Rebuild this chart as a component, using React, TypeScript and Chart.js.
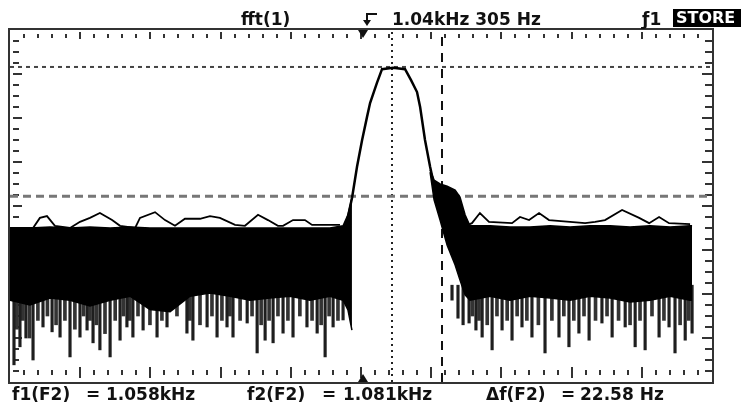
import React, { useEffect, useRef } from "react";
import { Chart, registerables } from "chart.js";

Chart.register(...registerables);

// ---- axis ranges ----
const freqMin = 885.5; // Hz at left edge of screen
const freqMax = 1202.5; // Hz at right edge of screen
const dbMin = -80;
const dbMax = 0;

// ---- cursors ----
const cursorF1 = 1058.0;
const cursorF2 = 1080.58;
const levelHigh = -8.4;
const levelLow = -37.8;

// ---- main filter peak trace ----
const peakHz = [1037.7, 1038.1, 1040.0, 1042.2, 1044.5, 1046.7, 1048.1, 1051.2, 1053.5, 1058.5, 1063.9, 1066.6, 1069.3, 1070.7, 1072.9, 1075.2, 1076.5];
const peakDb = [-45.9, -42.5, -38.0, -31.1, -25.0, -19.8, -16.6, -12.0, -8.9, -8.6, -8.9, -11.4, -14.1, -17.5, -25.0, -31.1, -34.1];

// ---- persistence noise band, left of peak ----
const leftBandHz = [885.5, 894.5, 903.6, 912.6, 921.6, 930.7, 939.7, 948.7, 957.8, 966.8, 975.8, 984.9, 993.9, 1002.9, 1012.0, 1021.0, 1030.0, 1035.9, 1038.1, 1039.9];
const leftBandTopDb = [-45.2, -45.0, -44.8, -45.0, -44.8, -45.0, -44.8, -45.0, -45.0, -45.0, -45.0, -45.0, -45.0, -45.0, -45.0, -45.0, -45.0, -44.5, -42.0, -38.2];
const leftBandBottomDb = [-61.4, -62.5, -60.9, -61.4, -62.7, -61.4, -60.5, -63.5, -64.0, -60.5, -59.8, -60.5, -61.4, -60.9, -60.5, -61.4, -60.5, -61.4, -63.6, -68.2];

// ---- persistence noise band, right of peak ----
const rightBandHz = [1075.2, 1077.0, 1079.7, 1082.9, 1086.5, 1088.7, 1091.0, 1093.2, 1102.3, 1111.3, 1120.3, 1129.4, 1138.4, 1147.4, 1156.5, 1165.5, 1174.5, 1183.6, 1192.6, 1193.5];
const rightBandTopDb = [-31.8, -34.1, -35.0, -35.5, -36.4, -38.0, -42.0, -44.5, -44.5, -44.8, -44.8, -44.5, -44.8, -44.5, -44.5, -44.8, -44.5, -44.8, -44.5, -44.5];
const rightBandBottomDb = [-32.3, -38.6, -43.2, -48.9, -53.4, -56.8, -60.2, -61.4, -60.5, -61.4, -60.5, -60.9, -61.4, -60.5, -60.9, -61.8, -61.4, -60.5, -61.4, -61.4];

// ---- downward noise spikes (deep tips) ----
const spikeBaseDb = -58;
const leftSpikeHz = [887.3, 890.0, 892.7, 895.9, 900.4, 904.5, 908.1, 912.6, 917.1, 920.3, 923.0, 926.1, 930.7, 935.2, 938.3, 941.0, 945.6, 951.9, 956.4, 965.4, 968.1, 974.5, 979.0, 983.5, 986.2, 992.6, 997.1, 1000.7, 1004.3, 1008.8, 1013.3, 1019.6, 1024.2, 1027.8, 1031.4, 1035.9];
const leftSpikeTipDb = [-76.1, -72.0, -70.0, -75.0, -67.5, -68.6, -69.8, -74.3, -69.8, -68.2, -71.1, -72.7, -74.3, -70.5, -67.5, -69.8, -68.2, -69.8, -67.5, -68.9, -70.5, -67.5, -69.8, -67.5, -69.8, -66.6, -73.4, -70.5, -71.1, -68.9, -69.8, -67.5, -68.9, -74.3, -67.5, -65.9];
const rightSpikeHz = [1085.1, 1087.8, 1090.1, 1092.8, 1095.9, 1098.7, 1103.2, 1107.7, 1112.2, 1116.7, 1121.2, 1127.1, 1133.4, 1137.9, 1142.4, 1147.0, 1152.8, 1157.4, 1163.3, 1167.8, 1172.3, 1178.6, 1183.1, 1185.8, 1190.4, 1193.5];
const rightSpikeTipDb = [-61.4, -65.5, -67.0, -66.6, -68.2, -69.8, -72.7, -68.2, -70.5, -67.5, -69.8, -73.4, -69.8, -72.0, -68.9, -70.5, -66.6, -69.8, -67.5, -72.0, -72.7, -69.8, -67.5, -73.4, -70.5, -68.9];

// ---- downward noise spikes (shallower, in between) ----
const leftMidSpikeHz = [888.6, 891.3, 894.3, 898.1, 902.4, 906.3, 910.3, 914.8, 918.7, 921.6, 924.5, 928.4, 933.0, 936.7, 939.6, 943.3, 948.7, 954.1, 960.9, 966.7, 971.3, 976.7, 981.2, 984.8, 989.4, 994.8, 998.9, 1002.5, 1006.5, 1011.0, 1016.4, 1021.9, 1026.0, 1029.6, 1033.6];
const leftMidSpikeTipDb = [-68, -66, -70, -66, -65, -67, -66, -68, -65, -66, -67, -69, -66, -65, -66, -65, -67, -66, -65, -66, -67, -65, -66, -65, -66, -65, -67, -66, -65, -66, -65, -66, -67, -65, -66];
const rightMidSpikeHz = [1094.3, 1097.3, 1101.0, 1105.4, 1110.0, 1114.5, 1118.9, 1124.1, 1130.2, 1135.6, 1140.1, 1144.7, 1149.9, 1155.1, 1160.3, 1165.5, 1170.0, 1175.4, 1180.8, 1188.1, 1192.0];
const rightMidSpikeTipDb = [-65, -66, -67, -65, -66, -65, -66, -67, -66, -65, -66, -65, -66, -65, -66, -67, -66, -65, -66, -67, -66];

// ---- upward excursions outlined above the band ----
const bumpLeftHz = [885.5, 895.9, 899.0, 902.2, 905.8, 912.6, 917.1, 921.6, 926.1, 931.6, 935.2, 942.0, 944.2, 951.0, 955.5, 960.0, 964.5, 971.3, 975.8, 980.3, 987.1, 991.6, 997.5, 1002.0, 1006.5, 1008.8, 1013.3, 1018.7, 1021.9, 1034.5];
const bumpLeftDb = [-45.0, -45.0, -42.7, -42.3, -44.5, -45.0, -43.6, -42.7, -41.6, -43.2, -44.5, -45.0, -42.7, -41.4, -43.2, -44.5, -42.9, -42.9, -42.3, -42.7, -44.3, -44.5, -42.0, -43.2, -44.5, -44.5, -43.2, -43.2, -44.3, -44.3];
const bumpRightHz = [1091.4, 1094.1, 1097.7, 1101.8, 1112.2, 1115.8, 1119.9, 1124.4, 1128.9, 1145.2, 1149.7, 1154.2, 1161.9, 1169.6, 1174.1, 1178.6, 1183.1, 1192.6];
const bumpRightDb = [-44.5, -43.9, -41.6, -43.6, -43.9, -42.5, -43.2, -41.6, -43.2, -43.9, -43.6, -43.2, -40.9, -42.7, -43.9, -42.5, -43.9, -44.1];

const pts = (xs: number[], ys: number[]) => xs.map((x, i) => ({ x, y: ys[i] }));
const bars = (xs: number[], ys: number[]) => xs.map((x, i) => ({ x, y: [ys[i], spikeBaseDb] }));

const graticule = {
  id: "graticule",
  beforeDatasetsDraw(chart: any) {
    const { ctx, chartArea: a } = chart;
    const L = a.left, R = a.right, T = a.top, B = a.bottom;
    const w = R - L, h = B - T;
    ctx.save();
    ctx.strokeStyle = "#333";
    ctx.lineWidth = 2;
    ctx.beginPath();
    for (let i = 1; i < 50; i++) {
      const x = Math.round(L + (w * i) / 50);
      const major = i % 5 === 0;
      ctx.moveTo(x, T + (major ? 2 : 4));
      ctx.lineTo(x, T + (major ? 9 : 8));
      ctx.moveTo(x, B - (major ? 15 : 12));
      ctx.lineTo(x, B - (major ? 4 : 7));
    }
    for (let j = 1; j < 32; j++) {
      const y = Math.round(T + (h * j) / 32);
      const major = j % 4 === 0;
      ctx.moveTo(L + 3, y);
      ctx.lineTo(L + (major ? 12 : 9), y);
      ctx.moveTo(R - (major ? 10 : 7), y);
      ctx.lineTo(R, y);
    }
    ctx.stroke();
    ctx.restore();
  },
  afterDatasetsDraw(chart: any) {
    const { ctx, chartArea: a } = chart;
    const L = a.left, R = a.right, T = a.top, B = a.bottom;
    ctx.save();
    ctx.strokeStyle = "#333";
    ctx.lineWidth = 2;
    ctx.strokeRect(L - 1, T - 1, R - L + 2, B - T + 2);
    const cx = Math.round(L + (R - L) / 2) + 2;
    ctx.fillStyle = "#111";
    ctx.beginPath();
    ctx.moveTo(cx - 5, T);
    ctx.lineTo(cx + 5, T);
    ctx.lineTo(cx, T + 8);
    ctx.closePath();
    ctx.fill();
    ctx.beginPath();
    ctx.moveTo(cx - 5, B);
    ctx.lineTo(cx + 5, B);
    ctx.lineTo(cx, B - 8);
    ctx.closePath();
    ctx.fill();
    // reference arrow glyph above the top marker
    ctx.strokeStyle = "#111";
    ctx.beginPath();
    ctx.moveTo(cx + 14, 14);
    ctx.lineTo(cx + 4, 14);
    ctx.lineTo(cx + 4, 21);
    ctx.stroke();
    ctx.beginPath();
    ctx.moveTo(cx, 20);
    ctx.lineTo(cx + 8, 20);
    ctx.lineTo(cx + 4, 26);
    ctx.closePath();
    ctx.fill();
    ctx.restore();
  },
};

const Label = ({ left, top, text, size = 17, color = "#111" }: any) => (
  <div
    style={{
      position: "absolute",
      left,
      top,
      font: `bold ${size}px "DejaVu Sans"`,
      lineHeight: `${size}px`,
      whiteSpace: "pre",
      color,
    }}
  >
    {text}
  </div>
);

export default function App() {
  const ref = useRef<HTMLCanvasElement>(null);
  useEffect(() => {
    const lineBase = { pointRadius: 0, tension: 0, fill: false };
    const spike = (data: any, color: string, thickness: number) =>
      ({ type: "bar", order: 3, data, backgroundColor: color, barThickness: thickness, grouped: false } as any);
    const chart = new Chart(ref.current!, {
      type: "line",
      data: {
        datasets: [
          { ...lineBase, order: 0, data: pts(peakHz, peakDb), borderColor: "#000", borderWidth: 2.5 },
          { ...lineBase, order: 1, data: pts(bumpLeftHz, bumpLeftDb), borderColor: "#000", borderWidth: 1.8 },
          { ...lineBase, order: 1, data: pts(bumpRightHz, bumpRightDb), borderColor: "#000", borderWidth: 1.8 },
          { ...lineBase, order: 2, data: pts(leftBandHz, leftBandTopDb), borderColor: "#000", borderWidth: 1.5 },
          { ...lineBase, order: 2, data: pts(leftBandHz, leftBandBottomDb), borderColor: "#000", borderWidth: 1.5, fill: "-1", backgroundColor: "#000" },
          { ...lineBase, order: 2, data: pts(rightBandHz, rightBandTopDb), borderColor: "#000", borderWidth: 1.5 },
          { ...lineBase, order: 2, data: pts(rightBandHz, rightBandBottomDb), borderColor: "#000", borderWidth: 1.5, fill: "-1", backgroundColor: "#000" },
          spike(bars(leftSpikeHz, leftSpikeTipDb), "#1e1e1e", 2.5),
          spike(bars(rightSpikeHz, rightSpikeTipDb), "#1e1e1e", 2.5),
          spike(bars(leftMidSpikeHz, leftMidSpikeTipDb), "#333", 3),
          spike(bars(rightMidSpikeHz, rightMidSpikeTipDb), "#333", 3),
          { ...lineBase, order: 4, data: [{ x: freqMin, y: levelHigh }, { x: freqMax, y: levelHigh }], borderColor: "#444", borderWidth: 2, borderDash: [4, 4] },
          { ...lineBase, order: 4, data: [{ x: freqMin, y: levelLow }, { x: freqMax, y: levelLow }], borderColor: "#777", borderWidth: 3, borderDash: [8, 5] },
          { ...lineBase, order: 4, data: [{ x: cursorF1, y: dbMin }, { x: cursorF1, y: dbMax }], borderColor: "#222", borderWidth: 2, borderDash: [2, 4] },
          { ...lineBase, order: 4, data: [{ x: cursorF2, y: dbMin }, { x: cursorF2, y: dbMax }], borderColor: "#111", borderWidth: 2, borderDash: [9, 7] },
        ],
      },
      options: {
        animation: false,
        responsive: false,
        devicePixelRatio: 1,
        events: [],
        layout: { padding: { left: 10, right: 32, top: 30, bottom: 26 } },
        scales: {
          x: { type: "linear", min: freqMin, max: freqMax, display: false, offset: false },
          y: { type: "linear", min: dbMin, max: dbMax, display: false },
        },
        plugins: { legend: { display: false }, tooltip: { enabled: false } },
      },
      plugins: [graticule],
    } as any);
    return () => chart.destroy();
  }, []);

  return (
    <div style={{ position: "absolute", left: 0, top: 0, width: 744, height: 408, background: "#fff", overflow: "hidden" }}>
      <canvas ref={ref} width={744} height={408} style={{ position: "absolute", left: 0, top: 0 }} />
      <Label left={241} top={11} text="fft(1)" />
      <Label left={392} top={11} text="1.04kHz 305 Hz" />
      <Label left={642} top={11} text="ƒ1" />
      <div style={{ position: "absolute", left: 673, top: 9, width: 68, height: 18, background: "#000" }} />
      <Label left={676} top={10} text="STORE" size={16} color="#fff" />
      <Label left={12} top={386} text="f1(F2)" />
      <Label left={86} top={386} text="=" />
      <Label left={106} top={386} text="1.058kHz" />
      <Label left={247} top={386} text="f2(F2)" />
      <Label left={322} top={386} text="=" />
      <Label left={343} top={386} text="1.081kHz" />
      <Label left={486} top={386} text="Δf(F2)" />
      <Label left={561} top={386} text="=" />
      <Label left={580} top={386} text="22.58 Hz" />
    </div>
  );
}
